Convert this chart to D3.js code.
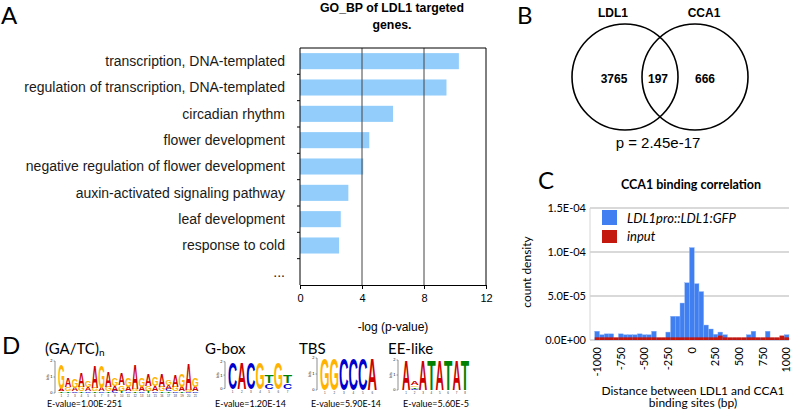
<!DOCTYPE html>
<html><head><meta charset="utf-8">
<script src="https://cdn.jsdelivr.net/npm/d3@7"></script>
<style>body{margin:0;background:#fff}</style></head>
<body><svg id="c" width="796" height="409"></svg>
<script>
// ---------- Panel A data ----------
const goTerms = ["transcription, DNA-templated", "regulation of transcription, DNA-templated", "circadian rhythm",
  "flower development", "negative regulation of flower development", "auxin-activated signaling pathway",
  "leaf development", "response to cold", "..."];
const goValues = [10.25, 9.45, 6.0, 4.47, 4.08, 3.12, 2.63, 2.52, null];
const goTicks = [0, 4, 8, 12];
const goTitle = ["GO_BP of LDL1 targeted", "genes."];
const goXTitle = "-log (p-value)";

// ---------- Panel B data ----------
const vennSets = ["LDL1", "CCA1"];
const vennCounts = [3765, 197, 666];
const vennP = "p = 2.45e-17";

// ---------- Panel C data ----------
const distBins = [-1000,-950,-900,-850,-800,-750,-700,-650,-600,-550,-500,-450,-400,-350,-300,-250,-200,-150,-100,-50,
  0,50,100,150,200,250,300,350,400,450,500,550,600,650,700,750,800,850,900,950,1000];
const ldl1Density = [10e-6,6e-6,7e-6,7e-6,2e-6,7e-6,6e-6,6e-6,6e-6,7e-6,6e-6,6e-6,10e-6,2e-6,2e-6,9e-6,27e-6,27e-6,42e-6,65e-6,
  105e-6,64e-6,55e-6,17e-6,12.5e-6,6.5e-6,9e-6,6e-6,2e-6,2e-6,2e-6,2e-6,6e-6,10e-6,2e-6,2e-6,10e-6,2e-6,2e-6,2e-6,6e-6];
const inputDensity = [3e-6,3e-6,3e-6,3e-6,3e-6,3e-6,3e-6,3e-6,3e-6,3e-6,3e-6,3e-6,3e-6,3e-6,3e-6,3e-6,3e-6,3e-6,3e-6,3e-6,
  3e-6,3e-6,3e-6,3e-6,3e-6,3e-6,5e-6,3e-6,3e-6,3e-6,3e-6,3e-6,3e-6,3e-6,3e-6,3e-6,3e-6,3e-6,3e-6,5e-6,3e-6];
const distTicks = [-1000,-750,-500,-250,0,250,500,750,1000];
const densityTicks = [0, 5e-5, 1e-4, 1.5e-4];
const densityTickLabels = ["0.0E+00","5.0E-05","1.0E-04","1.5E-04"];
const seriesNames = ["LDL1pro::LDL1:GFP", "input"];
const cTitle = "CCA1 binding correlation";
const cXTitle = ["Distance between LDL1 and CCA1", "binding sites (bp)"];
const cYTitle = "count density";

// ---------- Panel D data ----------
const motifNames = ["(GA/TC)", "G-box", "TBS", "EE-like"];
const motifSubs = ["n", "", "", ""];
const motifEvalues = ["E-value=1.00E-251", "E-value=1.20E-14", "E-value=5.90E-14", "E-value=5.60E-5"];
const motifGATC = [
  [["T",0.1],["A",0.15],["G",1.6]], [["T",0.1],["G",0.25],["A",0.6]], [["C",0.1],["A",0.2],["G",0.6]],
  [["T",0.1],["G",0.3],["A",0.9]], [["C",0.1],["A",0.25],["G",0.4]], [["T",0.1],["G",0.2],["A",1.4]],
  [["C",0.1],["A",0.2],["G",1.4]], [["T",0.1],["G",0.3],["A",1.0]], [["C",0.15],["A",0.3],["G",0.45]],
  [["T",0.15],["G",0.35],["A",0.7]], [["C",0.1],["A",0.3],["G",0.6]], [["T",0.1],["G",0.15],["A",1.6]],
  [["C",0.1],["A",0.3],["G",0.6]], [["T",0.15],["G",0.3],["A",0.7]], [["C",0.1],["A",0.35],["G",0.55]],
  [["T",0.1],["G",0.3],["A",0.8]], [["T",0.1],["C",0.15],["A",0.25],["G",0.3]], [["C",0.1],["G",0.3],["A",0.7]],
  [["T",0.1],["A",0.3],["G",0.8]], [["C",0.05],["G",0.15],["A",1.65]], [["C",0.1],["A",0.3],["G",0.55]]
];
const motifGbox = [[["C",2]],[["A",2]],[["C",2]],[["G",2]],[["C",0.4],["T",0.6]],[["G",2]],[["C",0.4],["T",0.6]]];
const motifTBS = [[["G",2]],[["G",2]],[["C",2]],[["C",2]],[["C",2]],[["A",2]]];
const motifEE = [[["A",2]],[["C",0.1],["T",0.12],["G",0.1],["A",0.25]],[["A",2]],[["T",2]],[["A",2]],[["T",2]],[["A",2]],[["T",2]]];
const motifData = [motifGATC, motifGbox, motifTBS, motifEE];

// ---------- drawing ----------
const svg = d3.select("#c");
svg.append("rect").attr("width",796).attr("height",409).attr("fill","#fff");
const SANS = "'Liberation Sans', Arial, sans-serif";
const LATO = "Lato, 'Open Sans', sans-serif";

// panel letters
[["A",1,24],["B",517,24],["C",538,189],["D",2,354]].forEach(([t,x,y])=>{
  svg.append("text").attr("x",x).attr("y",y).attr("font-family",LATO).attr("font-size",24).attr("fill","#000").text(t);
});

// ===== Panel A =====
{
  const g = svg.append("g");
  const x = d3.scaleLinear().domain([0,12]).range([300,486]);
  const y = d3.scaleBand().domain(goTerms).range([48,285]).paddingInner(0.39).paddingOuter(0.195);
  goTitle.forEach((t,i)=> g.append("text").attr("x",392).attr("y",12+i*16.5).attr("text-anchor","middle")
    .attr("font-family",SANS).attr("font-weight","bold").attr("font-size",12.3).text(t));
  g.selectAll(".bar").data(goTerms.map((t,i)=>({t,v:goValues[i]})).filter(d=>d.v!=null)).enter().append("rect")
    .attr("x",x(0)).attr("y",d=>y(d.t)).attr("width",d=>x(d.v)-x(0)).attr("height",y.bandwidth()).attr("fill","#92cdfc");
  [4,8].forEach(v=> g.append("line").attr("x1",x(v)).attr("x2",x(v)).attr("y1",48).attr("y2",285).attr("stroke","#444").attr("stroke-width",1));
  g.append("line").attr("x1",x(0)).attr("x2",x(12)).attr("y1",48).attr("y2",48).attr("stroke","#000");
  g.append("line").attr("x1",x(12)).attr("x2",x(12)).attr("y1",48).attr("y2",285).attr("stroke","#000");
  const ax = g.append("g").attr("transform","translate(0,285)").call(d3.axisBottom(x).tickValues(goTicks).tickSize(4).tickSizeOuter(0));
  ax.select(".domain").attr("stroke","#000");
  ax.selectAll("text").attr("font-family",SANS).attr("font-size",11).attr("fill","#000").attr("dy","0.95em");
  g.append("line").attr("x1",x(0)).attr("x2",x(0)).attr("y1",48).attr("y2",285).attr("stroke","#000");
  const step = y.step();
  goTerms.forEach((t,i)=>{ if(i>0){ const yy = y(t) - y.paddingInner()*step/2;
    g.append("line").attr("x1",x(0)-3).attr("x2",x(0)).attr("y1",yy).attr("y2",yy).attr("stroke","#000"); }});
  g.selectAll(".lab").data(goTerms).enter().append("text").attr("x",285).attr("y",d=>y(d)+y.bandwidth()/2)
    .attr("dy","0.35em").attr("text-anchor","end").attr("font-family",SANS).attr("font-size",14).attr("fill","#1a1a1a").text(d=>d);
  g.append("text").attr("x",393).attr("y",331).attr("text-anchor","middle").attr("font-family",SANS).attr("font-size",12).text(goXTitle);
}

// ===== Panel B =====
{
  const g = svg.append("g");
  const cx = d3.scalePoint().domain(vennSets).range([625,695]);
  vennSets.forEach(s=> g.append("circle").attr("cx",cx(s)).attr("cy",77).attr("r",53).attr("fill","none").attr("stroke","#000").attr("stroke-width",1.6));
  vennSets.forEach(s=> g.append("text").attr("x",cx(s)-(s==="LDL1"?12:-9)).attr("y",17).attr("text-anchor","middle")
    .attr("font-family",SANS).attr("font-weight","bold").attr("font-size",12).text(s));
  const numX = [614, 658, 705];
  vennCounts.forEach((v,i)=> g.append("text").attr("x",numX[i]).attr("y",83).attr("text-anchor","middle")
    .attr("font-family",SANS).attr("font-weight","bold").attr("font-size",12).text(v));
  g.append("text").attr("x",658).attr("y",148).attr("text-anchor","middle").attr("font-family",SANS).attr("font-size",15).text(vennP);
}

// ===== Panel C =====
{
  const g = svg.append("g");
  const x = d3.scaleLinear().domain([-1075,1025]).range([590,789]);
  const y = d3.scaleLinear().domain([0,1.5e-4]).range([340,208]);
  const bw = x(50)-x(0);
  g.append("text").attr("x",691).attr("y",189).attr("text-anchor","middle").attr("font-family",LATO).attr("font-weight","bold").attr("font-size",12.5).text(cTitle);
  densityTicks.forEach((v,i)=>{
    g.append("line").attr("x1",590).attr("x2",789).attr("y1",y(v)).attr("y2",y(v)).attr("stroke","#b3b3b3").attr("stroke-width",1);
    g.append("text").attr("x",586).attr("y",y(v)).attr("dy","0.35em").attr("text-anchor","end").attr("font-family",LATO).attr("font-size",11).text(densityTickLabels[i]);
  });
  g.append("line").attr("x1",590).attr("x2",590).attr("y1",208).attr("y2",340).attr("stroke","#d6d6d6");
  g.selectAll(".bb").data(distBins).enter().append("rect")
    .attr("x",(d)=>x(d)-bw/2).attr("width",bw).attr("y",(d,i)=>y(ldl1Density[i])).attr("height",(d,i)=>y(0)-y(ldl1Density[i]))
    .attr("fill","#3f7ff2").attr("stroke","#8db2f7").attr("stroke-width",0.4);
  g.selectAll(".rb").data(distBins).enter().append("rect")
    .attr("x",(d)=>x(d)-bw/2).attr("width",bw).attr("y",(d,i)=>y(inputDensity[i])).attr("height",(d,i)=>y(0)-y(inputDensity[i]))
    .attr("fill","#c4170e");
  distTicks.forEach(v=> g.append("text").attr("transform",`translate(${x(v)},347) rotate(-90)`).attr("dy","0.35em")
    .attr("text-anchor","end").attr("font-family",LATO).attr("font-size",11).text(v));
  const lc = ["#3f7ff2","#c4170e"];
  seriesNames.forEach((s,i)=>{
    g.append("rect").attr("x",602).attr("y",210+i*20).attr("width",15).attr("height",i?13:15).attr("fill",lc[i]);
    g.append("text").attr("x",627).attr("y",223+i*18).attr("font-family",LATO).attr("font-style","italic").attr("font-size",13).text(s);
  });
  cXTitle.forEach((t,i)=> g.append("text").attr("x",693).attr("y",395+i*11.5).attr("text-anchor","middle").attr("font-family",LATO).attr("font-size",12).text(t));
  g.append("text").attr("transform","translate(527,272) rotate(-90)").attr("dy","0.35em").attr("text-anchor","middle").attr("font-family",LATO).attr("font-size",12).text(cYTitle);
}

// ===== Panel D =====
{
  const g = svg.append("g");
  const colors = {A:"#cc0000", C:"#0000cc", G:"#ffb300", T:"#008000"};
  const layout = [
    {lx:45, x0:58, cw:6.7, base:393, bp:16, ax:55, ex:47, ew:75},
    {lx:205, x0:228, cw:9.15, base:388.5, bp:13.4, ax:225, ex:215, ew:71},
    {lx:299, x0:320, cw:9.5, base:390, bp:16, ax:317, ex:311, ew:70},
    {lx:388, x0:402, cw:8.4, base:390, bp:15, ax:398, ex:403, ew:66}
  ];
  motifNames.forEach((name,m)=>{
    const L = layout[m];
    const t = g.append("text").attr("x",L.lx).attr("y",354).attr("font-family",LATO).attr("font-size",15).text(name);
    if (motifSubs[m]) t.append("tspan").attr("font-size",10).attr("dy",2).text(motifSubs[m]);
    g.append("text").attr("x",L.ex).attr("y",407).attr("font-family",LATO).attr("font-size",10)
      .attr("textLength",L.ew).attr("lengthAdjust","spacingAndGlyphs").text(motifEvalues[m]);
    const yb = d3.scaleLinear().domain([0,2]).range([L.base, L.base-2*L.bp]);
    g.append("line").attr("x1",L.ax).attr("x2",L.ax).attr("y1",yb(0)).attr("y2",yb(2)).attr("stroke","#444").attr("stroke-width",0.6);
    [0,1,2].forEach(v=>{
      g.append("line").attr("x1",L.ax-1.5).attr("x2",L.ax).attr("y1",yb(v)).attr("y2",yb(v)).attr("stroke","#444").attr("stroke-width",0.5);
      g.append("text").attr("x",L.ax-2.5).attr("y",yb(v)).attr("dy","0.35em").attr("text-anchor","end").attr("font-family",SANS).attr("font-size",4).text(v);
    });
    g.append("text").attr("transform",`translate(${L.ax-6},${yb(1)}) rotate(-90)`).attr("text-anchor","middle").attr("font-family",SANS).attr("font-size",3.5).text("bits");
    const cols = motifData[m];
    cols.forEach((stack,i)=>{
      let yy = L.base;
      stack.forEach(([ch,bits])=>{
        const h = bits*L.bp;
        g.append("text").attr("x",0).attr("y",0).attr("font-family",SANS).attr("font-weight","bold").attr("font-size",20)
          .attr("textLength",L.cw).attr("lengthAdjust","spacingAndGlyphs").attr("fill",colors[ch])
          .attr("transform",`translate(${L.x0+i*L.cw},${yy}) scale(1,${h/(0.716*20)})`).text(ch);
        yy -= h;
      });
      g.append("text").attr("x",L.x0+i*L.cw+L.cw/2).attr("y",L.base+4).attr("text-anchor","middle").attr("font-family",SANS).attr("font-size",3).attr("fill","#333").text(i+1);
    });
  });
}
</script></body></html>
